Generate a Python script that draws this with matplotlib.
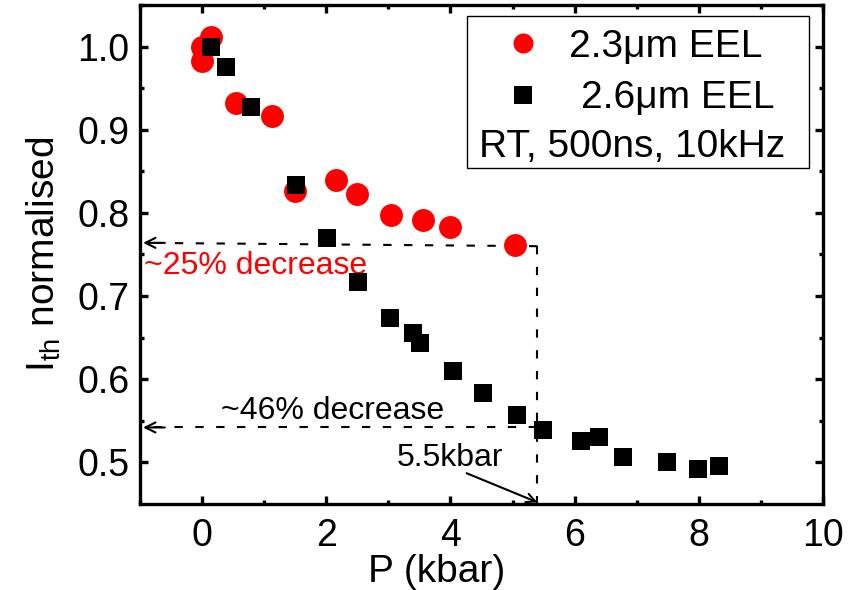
import matplotlib
matplotlib.use("Agg")
import matplotlib.pyplot as plt
from matplotlib.patches import Rectangle

plt.rcParams['font.family'] = ['Liberation Sans', 'DejaVu Sans']
plt.rcParams['mathtext.fontset'] = 'custom'
plt.rcParams['mathtext.rm'] = 'Liberation Sans'
plt.rcParams['mathtext.it'] = 'Liberation Sans'

# ---- data ----
p_23 = [0.0, 0.0, 0.14, 0.55, 1.13, 1.49, 2.16, 2.50, 3.04, 3.56, 4.00, 5.04]
i_23 = [1.000, 0.983, 1.012, 0.932, 0.917, 0.826, 0.839, 0.823, 0.797, 0.791, 0.783, 0.762]

p_26 = [0.14, 0.39, 0.79, 1.51, 2.01, 2.51, 3.02, 3.39, 3.51, 4.04, 4.53, 5.07,
        5.49, 6.10, 6.39, 6.78, 7.49, 7.99, 8.33]
i_26 = [1.000, 0.975, 0.927, 0.834, 0.770, 0.717, 0.674, 0.656, 0.644, 0.610,
        0.584, 0.557, 0.539, 0.526, 0.530, 0.506, 0.501, 0.492, 0.496]

x_ticks = [0, 2, 4, 6, 8, 10]
y_ticks = [0.5, 0.6, 0.7, 0.8, 0.9, 1.0]

guide_x = 5.4
guide_y_upper = 0.760
guide_y_lower = 0.542

label_23 = "2.3\u03bcm EEL"
label_26 = "2.6\u03bcm EEL"
label_cond = "RT, 500ns, 10kHz"

# ---- figure ----
fig = plt.figure(figsize=(8.57, 5.90), dpi=100)
ax = fig.add_axes([0.1634, 0.1458, 0.7969, 0.8457])

ax.plot(p_23, i_23, 'o', color='#ff0000', ms=16.5, mew=0, zorder=3)
ax.plot(p_26, i_26, 's', color='black', ms=13, mew=0, zorder=4)

ax.set_xlim(-1, 10)
ax.set_ylim(0.45, 1.05)
ax.set_xticks(x_ticks)
ax.set_xticklabels([str(t) for t in x_ticks])
ax.set_yticks(y_ticks)
ax.set_yticklabels([f"{t:.1f}" for t in y_ticks])
ax.set_xticks([-1, 1, 3, 5, 7, 9], minor=True)
ax.set_yticks([0.55, 0.65, 0.75, 0.85, 0.95, 1.05], minor=True)

ax.tick_params(which='both', direction='in', top=True, right=True,
               labelsize=27)
ax.tick_params(axis='x', which='major', pad=10)
ax.tick_params(axis='y', which='major', pad=7.5)
ax.tick_params(which='major', length=6, width=2.4)
ax.tick_params(which='minor', length=3, width=2.4)
for s in ax.spines.values():
    s.set_linewidth(2.4)

ax.set_xlabel("P (kbar)", fontsize=28)
ax.xaxis.set_label_coords(0.435, -0.156)
ax.xaxis.label.set_va('baseline')
ax.set_ylabel(r"I$_{\rm th}$ normalised", fontsize=28)
ax.yaxis.set_label_coords(-0.141, 0.5)
ax.yaxis.label.set_va('center')

# ---- guide lines ----
dash = dict(color='black', lw=1.5, ls=(0, (4, 6)), zorder=2)
ax.plot([guide_x, -0.95], [guide_y_upper, guide_y_upper + 0.004], **dash)
ax.plot([guide_x, -0.95], [guide_y_lower, guide_y_lower], **dash)
ax.plot([guide_x, guide_x], [guide_y_upper, 0.45], **dash)
for yy in (guide_y_upper + 0.004, guide_y_lower):
    ax.annotate("", xy=(-0.95, yy), xytext=(-0.6, yy),
                arrowprops=dict(arrowstyle='->', color='black', lw=1.5,
                                mutation_scale=18, shrinkA=0, shrinkB=0))

ax.text(-0.93, 0.726, "~25% decrease", color='#ff0000', fontsize=23,
        ha='left', va='baseline')
ax.text(0.30, 0.552, "~46% decrease", color='black', fontsize=23,
        ha='left', va='baseline')
ax.text(3.14, 0.4957, "5.5kbar", color='black', fontsize=23,
        ha='left', va='baseline')
ax.annotate("", xy=(guide_x, 0.452), xytext=(4.26, 0.487),
            arrowprops=dict(arrowstyle='->', color='black', lw=1.5,
                            mutation_scale=16, shrinkA=0, shrinkB=0))

# ---- legend box ----
ax.add_patch(Rectangle((0.479, 0.673), 0.5005, 0.3056, transform=ax.transAxes,
                       facecolor='white', edgecolor='black', lw=1.0, zorder=5))
ax.plot([0.561], [0.923], 'o', color='#ff0000', ms=14.4, mew=0,
        transform=ax.transAxes, clip_on=False, zorder=6)
ax.plot([0.561], [0.820], 's', color='black', ms=12.7, mew=0,
        transform=ax.transAxes, clip_on=False, zorder=6)
ax.text(0.628, 0.896, label_23, transform=ax.transAxes, fontsize=28,
        ha='left', va='baseline', zorder=6)
ax.text(0.645, 0.794, label_26, transform=ax.transAxes, fontsize=28,
        ha='left', va='baseline', zorder=6)
ax.text(0.497, 0.695, label_cond, transform=ax.transAxes, fontsize=28,
        ha='left', va='baseline', zorder=6)

fig.savefig("out.png", dpi=100)
